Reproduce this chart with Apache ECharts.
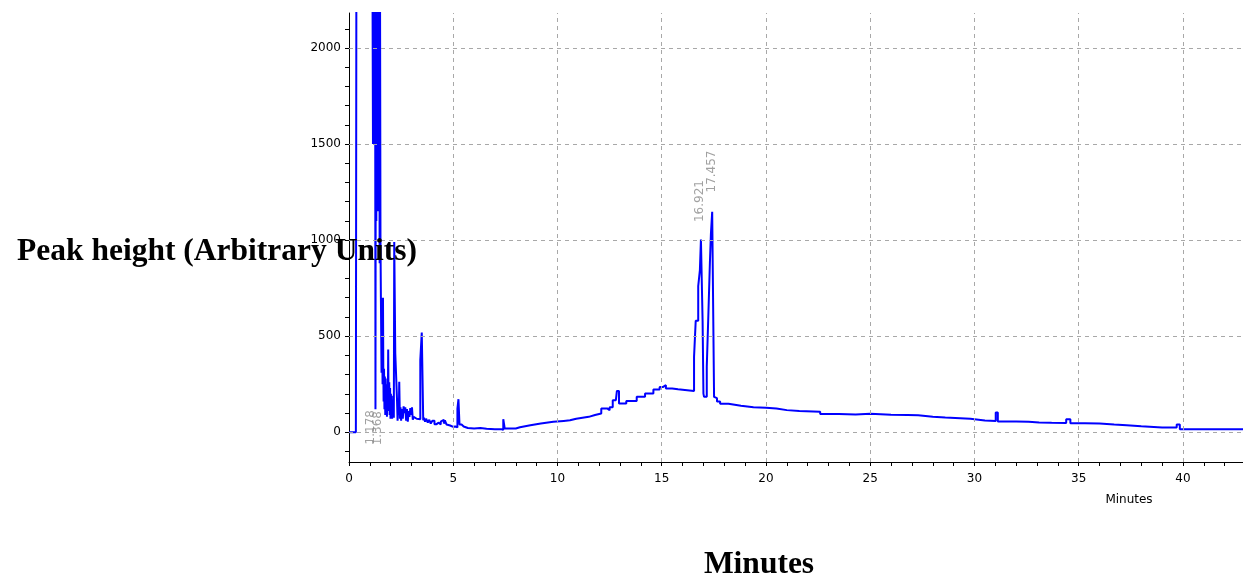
<!DOCTYPE html>
<html>
<head>
<meta charset="utf-8">
<script src="https://cdn.jsdelivr.net/npm/echarts@6/dist/echarts.min.js"></script>
<style>
html,body{margin:0;padding:0;background:#fff;}
#chart{width:1243px;height:577px;}
</style>
</head>
<body>
<div id="chart"></div>
<script>
// Retention time (minutes) and detector signal (arbitrary units)
const time = [
  0, 0.33, 0.36, 1.12, 1.15, 1.17, 1.19, 1.21, 1.23, 1.25, 1.27, 1.29, 1.31, 1.33, 1.35, 1.37, 1.39, 1.41, 1.43, 1.45,
  1.47, 1.49, 1.51, 1.53, 1.56, 1.58, 1.61, 1.63, 1.645, 1.66, 1.68, 1.70, 1.72, 1.74, 1.76, 1.78, 1.80, 1.82, 1.84, 1.86,
  1.88, 1.90, 1.93, 1.95, 1.97, 1.99, 2.01, 2.03, 2.05, 2.07, 2.09, 2.11, 2.13, 2.15, 2.17, 2.22, 2.30, 2.33, 2.36, 2.39,
  2.41, 2.44, 2.47, 2.50, 2.54, 2.58, 2.62, 2.66, 2.70, 2.74, 2.78, 2.82, 2.86, 2.90, 2.94, 2.98, 3.02, 3.06, 3.10, 3.17,
  3.25, 3.33, 3.42, 3.49, 3.56, 3.60, 3.65, 3.70, 3.78, 3.85, 3.92, 4.00, 4.10, 4.20, 4.30, 4.40, 4.47, 4.55, 4.60, 4.68,
  4.75, 4.85, 5.00, 5.10, 5.20, 5.25, 5.30, 5.40, 5.50, 5.70, 6.00, 6.30, 6.60, 7.00, 7.30, 7.40, 7.47, 7.80, 8.00, 8.20,
  8.70, 9.20, 9.80, 10.30, 10.60, 10.90, 11.50, 11.80, 12.10, 12.40, 12.50, 12.65, 12.80, 12.85, 12.95, 13.30, 13.80, 14.20, 14.60, 14.90,
  15.05, 15.20, 15.50, 15.78, 16.55, 16.63, 16.75, 16.83, 16.88, 16.96, 17.00, 17.03, 17.16, 17.23, 17.31, 17.36, 17.42, 17.51, 17.55, 17.65,
  17.80, 18.20, 18.80, 19.40, 20.00, 20.50, 21.00, 21.60, 22.60, 23.50, 24.30, 25.00, 26.00, 26.80, 27.30, 28.00, 28.60, 29.80, 30.50, 31.02,
  31.12, 32.00, 32.60, 33.10, 33.70, 34.40, 34.60, 35.30, 36.00, 36.70, 37.30, 38.00, 38.40, 39.00, 39.70, 39.85, 42.90
];
const signal = [
  0, 0, 3000, 2600, 1500, 2600, 1520, 2600, 1500, 2600, 120, 2600, 1100, 2400, 1500, 2600, 1150, 2500, 1500, 2600,
  880, 2200, 1000, 700, 310, 700, 250, 700, 340, 160, 330, 120, 290, 90, 280, 140, 250, 80, 240, 110,
  430, 130, 260, 90, 230, 70, 200, 100, 190, 70, 170, 90, 150, 75, 990, 410, 180, 60, 170, 90,
  262, 70, 130, 60, 120, 70, 135, 100, 130, 60, 120, 55, 110, 80, 125, 90, 130, 65, 80, 70,
  75, 68, 375, 519, 62, 75, 55, 70, 50, 65, 45, 60, 42, 50, 40, 55, 65, 45, 62, 40,
  35, 28, 30, 25, 123, 172, 40, 30, 22, 20, 22, 18, 15, 16, 12, 68, 19, 19, 26, 36,
  45, 54, 59, 62, 70, 80, 90, 97, 123, 115, 130, 167, 158, 215, 150, 163, 184, 201, 222, 235,
  245, 228, 224, 214, 392, 580, 760, 844, 1003, 580, 201, 184, 340, 588, 882, 1035, 1147, 184, 177, 160,
  148, 138, 130, 127, 124, 115, 110, 106, 95, 92, 96, 91, 90, 88, 80, 76, 70, 61, 58, 103,
  56, 54, 51, 49, 48, 67, 47, 45, 40, 36, 31, 29, 25, 24, 40, 16, 16
];

// Axis ticks and labels
const xLabelValues = [0, 5, 10, 15, 20, 25, 30, 35, 40];
const xTickValues = [0,1,2,3,4,5,6,7,8,9,10,11,12,13,14,15,16,17,18,19,20,21,22,23,24,25,26,27,28,29,30,31,32,33,34,35,36,37,38,39,40,41,42];
const yLabelValues = [0, 500, 1000, 1500, 2000];
const yTickValues = [-100,0,100,200,300,400,500,600,700,800,900,1000,1100,1200,1300,1400,1500,1600,1700,1800,1900,2000,2100];

// Peak annotations (text, time, height of label centre)
const peakLabelText = ['1.178', '1.368', '16.921', '17.457'];
const peakLabelTime = [1.04, 1.38, 16.83, 17.40];
const peakLabelHeight = [26, 21, 1203, 1357];

const chart = echarts.init(document.getElementById('chart'), null, {renderer: 'canvas'});

// Detector output is a sample-and-hold staircase: each reading holds until the next time
const trace = [];
time.forEach((t, i) => {
  trace.push([t, signal[i]]);
  if (i < time.length - 1) trace.push([time[i + 1], signal[i]]);
});
const labelData = peakLabelText.map((s, i) => ({name: s, value: [peakLabelTime[i], peakLabelHeight[i]]}));
const gridLines = xLabelValues.filter(v => v > 0).map(v => ({xAxis: v}))
  .concat(yLabelValues.map(v => ({yAxis: v})));

const option = {
  animation: false,
  backgroundColor: '#ffffff',
  grid: {left: 349, right: 0, top: 13, bottom: 115, containLabel: false},
  xAxis: {
    type: 'value', min: 0, max: 42.88,
    axisLine: {show: true, onZero: false, lineStyle: {color: '#000', width: 1}},
    axisTick: {show: true, customValues: xTickValues, length: 4, lineStyle: {color: '#000', width: 1}},
    axisLabel: {customValues: xLabelValues, formatter: v => String(v), color: '#000',
      fontFamily: 'DejaVu Sans', fontSize: 12, margin: 11},
    splitLine: {show: false}
  },
  yAxis: {
    type: 'value', min: -155, max: 2182,
    axisLine: {show: true, onZero: false, lineStyle: {color: '#000', width: 1}},
    axisTick: {show: true, customValues: yTickValues, length: 4, lineStyle: {color: '#000', width: 1}},
    axisLabel: {customValues: yLabelValues, formatter: v => String(v), color: '#000',
      fontFamily: 'DejaVu Sans', fontSize: 12, margin: 8},
    splitLine: {show: false}
  },
  series: [
    {
      type: 'line', z: 1, data: [[0, 0]], showSymbol: false, silent: true,
      lineStyle: {opacity: 0},
      markLine: {
        silent: true, symbol: 'none', animation: false,
        label: {show: false},
        lineStyle: {color: '#a8a8a8', width: 1, type: [4, 4]},
        emphasis: {disabled: true},
        data: gridLines
      }
    },
    {
      type: 'line', z: 3, data: trace, showSymbol: false, symbol: 'none',
      clip: true, silent: true,
      lineStyle: {color: '#0000ff', width: 2}
    },
    {
      type: 'scatter', z: 4, data: labelData, symbolSize: 1, silent: true,
      itemStyle: {color: 'rgba(0,0,0,0)'},
      label: {show: true, position: 'inside', rotate: 90, formatter: '{b}',
        color: '#8a8a8a', fontFamily: 'DejaVu Sans', fontSize: 12}
    }
  ],
  graphic: [
    {type: 'text', z: 100, x: 217, y: 252,
      style: {text: 'Peak height (Arbitrary Units)', font: 'bold 31.5px "Liberation Serif"', fill: '#000',
        textAlign: 'center', textVerticalAlign: 'middle'}},
    {type: 'text', z: 100, x: 759, y: 565,
      style: {text: 'Minutes', font: 'bold 31.5px "Liberation Serif"', fill: '#000',
        textAlign: 'center', textVerticalAlign: 'middle'}},
    {type: 'text', z: 100, x: 1129, y: 500,
      style: {text: 'Minutes', font: '12px "DejaVu Sans"', fill: '#000',
        textAlign: 'center', textVerticalAlign: 'middle'}}
  ]
};
chart.setOption(option);
</script>
</body>
</html>
